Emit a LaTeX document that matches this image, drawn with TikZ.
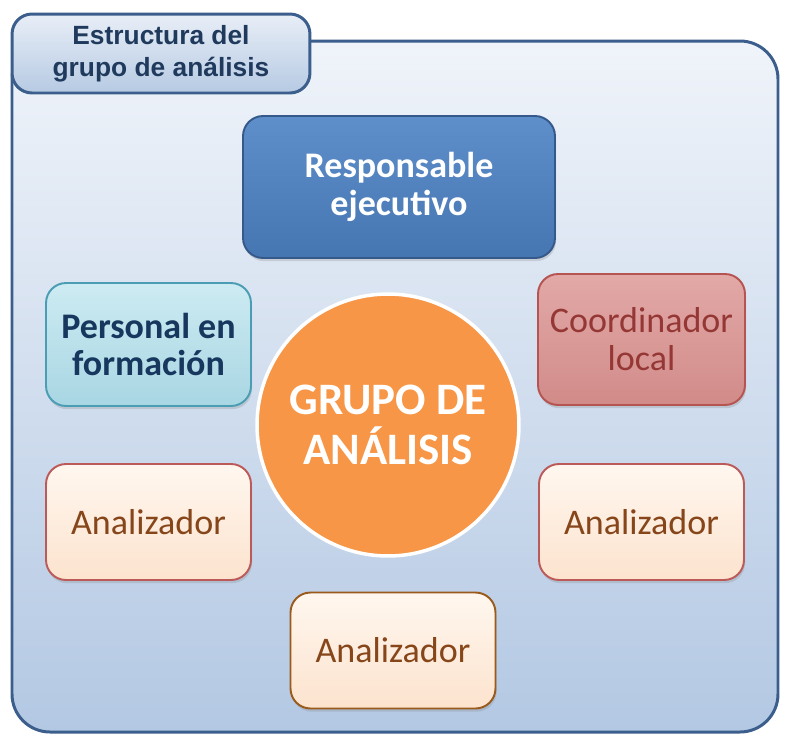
\documentclass[tikz,border=0pt]{standalone}
\usepackage{fontspec}
\setmainfont{Carlito}
\newfontfamily\titlefont{Liberation Sans}
\usepackage{tikz}
\usetikzlibrary{shadows}
\definecolor{framedark}{HTML}{3B5E8C}
\definecolor{bgtop}{HTML}{F0F4FA}
\definecolor{bgbottom}{HTML}{B3C8E3}
\definecolor{tabtop}{HTML}{E8EEF7}
\definecolor{tabbottom}{HTML}{B6CAE3}
\definecolor{titletext}{HTML}{1F3A5C}
\definecolor{resptop}{HTML}{5E8FCA}
\definecolor{respbottom}{HTML}{4676B2}
\definecolor{respedge}{HTML}{35598A}
\definecolor{perstop}{HTML}{CDEBF2}
\definecolor{persbottom}{HTML}{A8D6E3}
\definecolor{persedge}{HTML}{4A9DB3}
\definecolor{perstext}{HTML}{17375E}
\definecolor{coordtop}{HTML}{E2A9A7}
\definecolor{coordbottom}{HTML}{D18B89}
\definecolor{coordedge}{HTML}{B65451}
\definecolor{coordtext}{HTML}{953735}
\definecolor{anatop}{HTML}{FFF7EF}
\definecolor{anabottom}{HTML}{FCE3CE}
\definecolor{anaedge}{HTML}{BC5A5A}
\definecolor{anaedgeb}{HTML}{9A5A1C}
\definecolor{anatext}{HTML}{86461A}
\definecolor{grupofill}{HTML}{F79646}
\newcommand{\boxfont}{\fontsize{20.5}{21.6}\selectfont}

\begin{document}
\begin{tikzpicture}[x=0.02cm,y=-0.02cm,
	box/.style={rectangle, rounded corners=0.4cm, line width=1.1pt, align=center,
		inner sep=0pt, font=\boxfont,
		drop shadow={shadow xshift=0.6pt, shadow yshift=-1.8pt, opacity=0.25}},
	smallbox/.style={box, minimum width=4.1cm, minimum height=2.32cm},
	analizador/.style={smallbox, draw=anaedge, top color=anatop, bottom color=anabottom, text=anatext}]
	\useasboundingbox (0,0) rectangle (799,745);

	% marco exterior
	\draw[framedark, line width=1.7pt, rounded corners=0.76cm, top color=bgtop, bottom color=bgbottom]
		(12,41) rectangle (778,732);
	\node[rectangle, rounded corners=0.4cm, draw=framedark, line width=1.7pt,
		top color=tabtop, bottom color=tabbottom, minimum width=5.96cm, minimum height=1.58cm,
		align=center, inner sep=0pt, text=titletext,
		font={\titlefont\bfseries\fontsize{15}{18.3}\selectfont}] (titulo) at (161,53.5)
		{Estructura del\\grupo de análisis};

	\node[box, draw=respedge, top color=resptop, bottom color=respbottom, text=white,
		font={\boxfont\bfseries}, minimum width=6.24cm, minimum height=2.84cm] (responsable) at (399,187)
		{Responsable\\ejecutivo};
	\node[smallbox, draw=persedge, top color=perstop, bottom color=persbottom, text=perstext,
		font={\boxfont\bfseries}, minimum height=2.46cm] (personal) at (148.5,344.5)
		{Personal en\\formación};
	\node[smallbox, draw=coordedge, top color=coordtop, bottom color=coordbottom, text=coordtext,
		minimum width=4.14cm, minimum height=2.62cm] (coordinador) at (641.5,339.5)
		{Coordinador\\local};
	\node[analizador] (analizadorL) at (148.5,522) {Analizador};
	\node[analizador] (analizadorR) at (641.5,522) {Analizador};
	\node[analizador, draw=anaedgeb] (analizadorB) at (393,650.5) {Analizador};

	\node[circle, fill=grupofill, draw=white, line width=2pt, minimum size=5.24cm, inner sep=0pt,
		align=center, text=white, font={\bfseries\fontsize{25.6}{28.5}\selectfont}] (grupo) at (388,425)
		{GRUPO DE\\ANÁLISIS};
\end{tikzpicture}
\end{document}
